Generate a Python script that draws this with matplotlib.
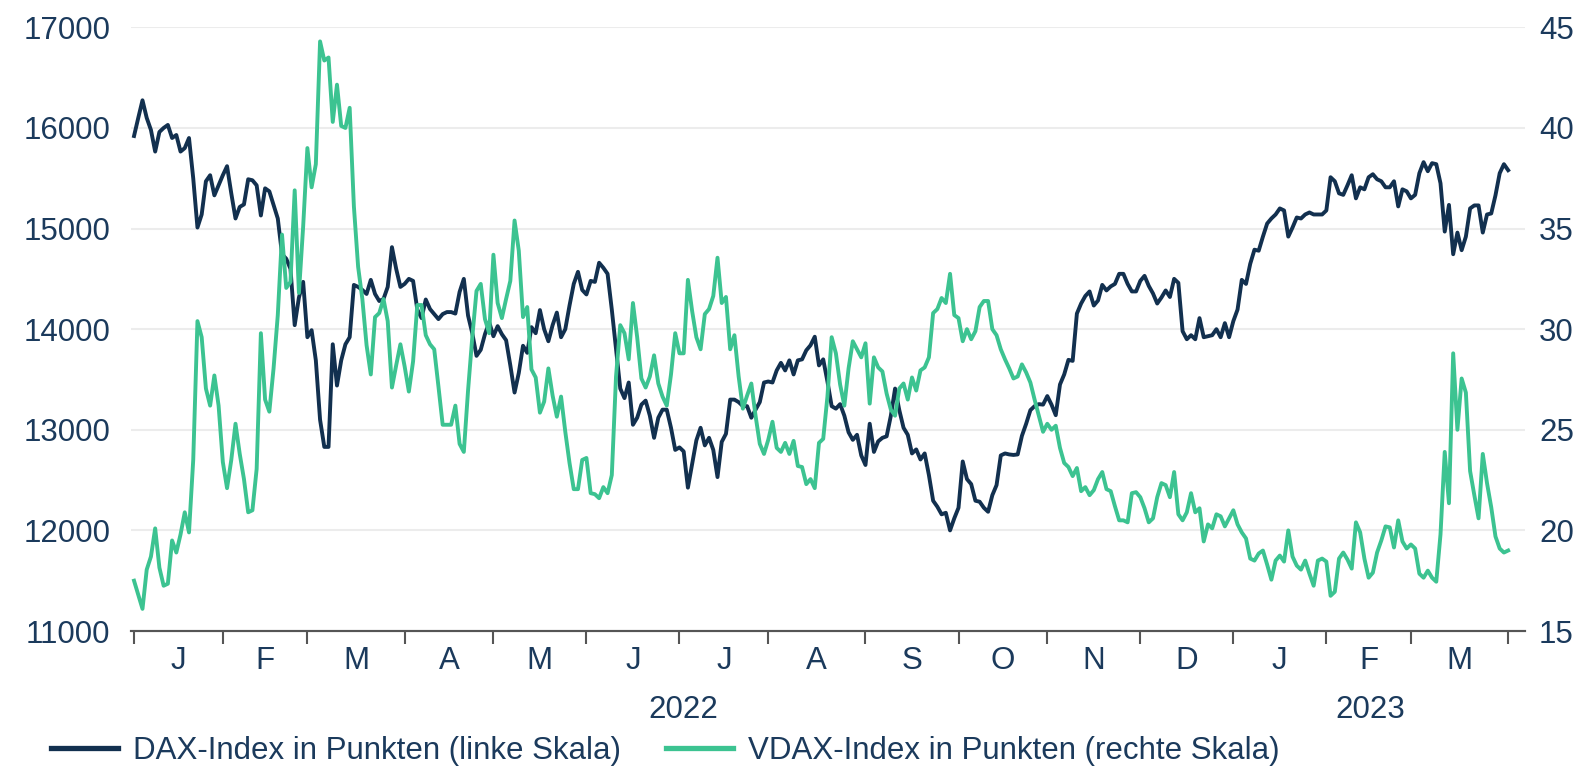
import numpy as np
import pandas as pd
import matplotlib.pyplot as plt
from matplotlib.transforms import blended_transform_factory

plt.rcParams['font.family'] = ['Liberation Sans', 'DejaVu Sans']

# DAX daily closes (points), weekdays from 3 Jan 2022
dax = [15920, 16100, 16275, 16100, 15980, 15765, 15960, 16000, 16030, 15900,
       15930, 15765, 15800, 15900, 15500, 15010, 15140, 15470, 15530, 15330,
       15430, 15530, 15620, 15350, 15100, 15215, 15240, 15490, 15480, 15430,
       15130, 15400, 15370, 15235, 15100, 14745, 14700, 14600, 14040, 14315,
       14470, 13920, 13990, 13690, 13100, 12830, 12830, 13850, 13440, 13690,
       13850, 13920, 14440, 14420, 14390, 14350, 14490, 14350, 14280, 14300,
       14420, 14815, 14600, 14420, 14450, 14500, 14480, 14195, 14110, 14295,
       14200, 14150, 14100, 14150, 14170, 14170, 14155, 14370, 14500, 14135,
       13960, 13735, 13795, 13950, 14070, 13930, 14030, 13950, 13890, 13640,
       13370, 13565, 13835, 13765, 14020, 13960, 14190, 14000, 13880, 14040,
       14165, 13920, 14000, 14235, 14450, 14570, 14390, 14345, 14480, 14470,
       14660, 14610, 14550, 14195, 13800, 13410, 13315, 13470, 13050, 13120,
       13250, 13290, 13140, 12920, 13120, 13200, 13200, 13020, 12800, 12825,
       12785, 12425, 12660, 12895, 13020, 12845, 12920, 12800, 12530, 12880,
       12960, 13300, 13300, 13275, 13235, 13235, 13120, 13200, 13275, 13470,
       13480, 13470, 13590, 13665, 13590, 13690, 13550, 13690, 13700, 13790,
       13840, 13925, 13640, 13700, 13480, 13235, 13210, 13255, 13140, 12975,
       12900, 12950, 12745, 12650, 13060, 12780, 12885, 12920, 12935, 13140,
       13410, 13195, 13020, 12950, 12765, 12805, 12705, 12765, 12550, 12295,
       12235, 12160, 12175, 12000, 12120, 12225, 12685, 12510, 12460, 12295,
       12285, 12225, 12185, 12350, 12450, 12745, 12765, 12755, 12750, 12755,
       12940, 13060, 13195, 13235, 13255, 13250, 13335, 13250, 13145, 13450,
       13550, 13695, 13685, 14155, 14255, 14330, 14375, 14235, 14285, 14440,
       14385, 14425, 14450, 14550, 14550, 14450, 14375, 14375, 14480, 14530,
       14430, 14355, 14255, 14315, 14385, 14320, 14500, 14460, 13980, 13900,
       13940, 13900, 14110, 13920, 13930, 13940, 14000, 13920, 14060, 13920,
       14080, 14195, 14490, 14450, 14650, 14790, 14780, 14920, 15050, 15100,
       15140, 15200, 15180, 14920, 15010, 15110, 15100, 15140, 15160, 15140,
       15140, 15140, 15180, 15510, 15470, 15350, 15335, 15430, 15530, 15300,
       15410, 15390, 15510, 15540, 15490, 15470, 15410, 15410, 15470, 15220,
       15390, 15370, 15300, 15335, 15550, 15660, 15570, 15650, 15640, 15450,
       14970, 15235, 14745, 14960, 14785, 14920, 15200, 15230, 15230, 14960,
       15140, 15150, 15330, 15550, 15640, 15580]

# VDAX daily (points)
vdax = [17.5, 16.8, 16.1, 18.05, 18.7, 20.1, 18.15, 17.25, 17.35, 19.5,
        18.9, 19.8, 20.9, 19.9, 23.5, 30.4, 29.6, 27.05, 26.2, 27.7,
        26.2, 23.4, 22.1, 23.5, 25.3, 23.8, 22.55, 20.9, 21.0, 23.05,
        29.8, 26.5, 25.9, 28.05, 30.7, 34.7, 32.05, 32.35, 36.9, 31.8,
        35.1, 39.0, 37.05, 38.2, 44.3, 43.35, 43.5, 40.3, 42.15, 40.1,
        40.0, 41.0, 36.1, 33.1, 31.5, 29.2, 27.75, 30.6, 30.8, 31.5,
        30.4, 27.1, 28.2, 29.25, 28.15, 26.9, 28.4, 31.2, 31.2, 29.7,
        29.25, 29.0, 27.15, 25.25, 25.25, 25.25, 26.2, 24.3, 23.9, 26.95,
        29.6, 31.9, 32.25, 30.5, 29.8, 33.7, 31.3, 30.55, 31.5, 32.4,
        35.4, 33.9, 30.6, 31.1, 28.0, 27.6, 25.85, 26.4, 28.05, 26.7,
        25.65, 26.65, 24.9, 23.35, 22.05, 22.05, 23.5, 23.6, 21.85, 21.8,
        21.6, 22.15, 21.85, 22.75, 27.65, 30.2, 29.8, 28.5, 31.3, 29.6,
        27.55, 27.1, 27.65, 28.7, 27.3, 26.65, 26.2, 27.75, 29.8, 28.8,
        28.8, 32.45, 30.9, 29.6, 29.0, 30.75, 31.0, 31.65, 33.55, 31.3,
        31.6, 29.0, 29.7, 27.65, 26.05, 26.7, 27.3, 25.7, 24.3, 23.8,
        24.5, 25.4, 24.1, 23.9, 24.35, 23.8, 24.45, 23.2, 23.15, 22.3,
        22.55, 22.1, 24.35, 24.55, 26.65, 29.6, 28.8, 27.25, 26.2, 28.05,
        29.4, 29.0, 28.6, 29.3, 26.3, 28.6, 28.1, 27.9, 26.8, 26.0,
        25.7, 27.05, 27.3, 26.5, 27.6, 26.95, 27.95, 28.1, 28.6, 30.8,
        31.0, 31.55, 31.3, 32.75, 30.7, 30.55, 29.4, 30.0, 29.5, 29.9,
        31.1, 31.4, 31.4, 30.0, 29.7, 29.0, 28.5, 28.05, 27.55, 27.65,
        28.25, 27.85, 27.35, 26.5, 25.7, 24.9, 25.3, 25.0, 25.2, 24.1,
        23.35, 23.15, 22.7, 23.1, 21.95, 22.15, 21.75, 22.0, 22.55, 22.9,
        22.05, 21.95, 21.2, 20.5, 20.5, 20.4, 21.85, 21.9, 21.65, 21.1,
        20.4, 20.6, 21.65, 22.35, 22.25, 21.65, 22.9, 20.8, 20.5, 20.9,
        21.85, 20.9, 21.1, 19.45, 20.3, 20.1, 20.8, 20.7, 20.2, 20.6,
        21.0, 20.3, 19.9, 19.6, 18.6, 18.5, 18.85, 19.0, 18.3, 17.55,
        18.5, 18.75, 18.45, 20.0, 18.7, 18.25, 18.05, 18.5, 17.85, 17.25,
        18.5, 18.6, 18.45, 16.75, 16.95, 18.6, 18.9, 18.55, 18.1, 20.4,
        19.9, 18.6, 17.65, 17.9, 18.9, 19.5, 20.2, 20.15, 19.15, 20.5,
        19.45, 19.1, 19.3, 19.1, 17.85, 17.65, 18.0, 17.65, 17.45, 19.8,
        23.9, 21.35, 28.8, 25.0, 27.55, 26.85, 22.95, 21.75, 20.6, 23.8,
        22.35, 21.15, 19.7, 19.1, 18.9, 19.0]

month_letters = ['J', 'F', 'M', 'A', 'M', 'J', 'J', 'A', 'S', 'O', 'N', 'D', 'J', 'F', 'M']
years = ['2022', '2023']

navy = '#12304f'
green = '#3cc391'
text_c = '#1b3a5c'
fs = 22.5

dates = pd.bdate_range('2022-01-03', periods=len(dax))
pos = np.arange(len(dax))
month_id = dates.year * 12 + dates.month
bounds = [0] + list(np.where(np.diff(month_id) != 0)[0] + 1)
mids = [(a + b) / 2 for a, b in zip(bounds[:-1], bounds[1:])]
year_start = [b for b in bounds if dates[b].month == 1] + [bounds[-1]]

fig = plt.figure(figsize=(15.83, 7.70), dpi=100)
ax = fig.add_axes([0.0828, 0.1805, 0.8806, 0.784])
ax2 = ax.twinx()

ax.set_ylim(11000, 17000)
ax2.set_ylim(15, 45)
ax.set_xlim(-0.7, 329)
ax.set_yticks(np.arange(11000, 17001, 1000))
ax2.set_yticks(np.arange(15, 46, 5))
for y in np.arange(12000, 17001, 1000):
    ax.axhline(y, color='#ececec', lw=1.5, zorder=0)

l1, = ax.plot(pos, dax, color=navy, lw=2.8, zorder=3)
l2, = ax2.plot(pos, vdax, color=green, lw=2.8, zorder=2)

for a in (ax, ax2):
    for s in ('left', 'right', 'top'):
        a.spines[s].set_visible(False)
    a.spines['bottom'].set_color('#555555')
    a.spines['bottom'].set_linewidth(1.5)
    a.tick_params(axis='y', length=0, labelsize=fs, labelcolor=text_c)

ax.tick_params(axis='y', pad=15)
ax2.tick_params(axis='y', pad=10)

ax.set_xticks(bounds)
ax.set_xticklabels([''] * len(bounds))
ax.set_xticks(mids, minor=True)
ax.set_xticklabels(month_letters, minor=True)
ax.tick_params(axis='x', which='major', length=9, width=1.5, color='#555555')
ax.tick_params(axis='x', which='minor', length=0, labelsize=fs, labelcolor=text_c, pad=11)

tr = blended_transform_factory(ax.transData, ax.transAxes)
for yr, a, b in zip(years, year_start[:-1], year_start[1:]):
    ax.text((a + b) / 2, -0.131, yr, transform=tr, ha='center', va='center',
            fontsize=fs, color=text_c)

fig.legend([l1, l2], ['DAX-Index in Punkten (linke Skala)', 'VDAX-Index in Punkten (rechte Skala)'],
           loc='center left', bbox_to_anchor=(0.032, 0.025), ncol=2, frameon=False,
           fontsize=fs, labelcolor=text_c, handlelength=2.15, handletextpad=0.47,
           columnspacing=1.45, borderpad=0, borderaxespad=0)
for h in fig.legends[0].legend_handles:
    h.set_linewidth(3.8)

fig.savefig('out.png', dpi=100)
